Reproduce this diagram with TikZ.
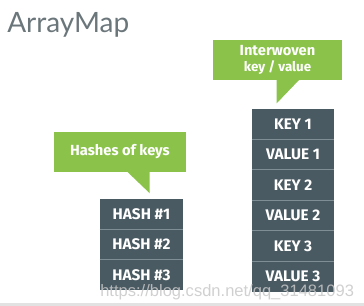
\documentclass[tikz,border=0pt]{standalone}
\usepackage{fontspec}
\newfontfamily\titlefont{Lato}
\newfontfamily\cellfont{Fira Sans}
\newfontfamily\markfont{Liberation Sans}
\usetikzlibrary{positioning,calc}
\definecolor{slate}{HTML}{4A5A62}
\definecolor{leaf}{HTML}{8BC34A}
\definecolor{ttl}{HTML}{6B767B}
\definecolor{band}{HTML}{E2E2E2}
\definecolor{sepl}{HTML}{7F8E95}
\definecolor{wmark}{HTML}{C8C8C8}
\def\px{0.75pt}
\tikzset{
  cell/.style={fill=slate, text=white, minimum width=83*\px, minimum height=30*\px,
               inner sep=0pt, font=\cellfont\bfseries\fontsize{11.5}{13}\selectfont},
  note/.style={fill=leaf, text=white, inner sep=0pt, align=center,
               font=\cellfont\bfseries\fontsize{11}{13}\selectfont},
  sep/.style={draw=sepl, line width=0.6pt},
}
\begin{document}
\begin{tikzpicture}[x=0.75pt, y=0.75pt]
  \useasboundingbox (0,0) rectangle (364,306);

  % --- title ---
  \node[anchor=base west, inner sep=0pt, text=ttl,
        font=\titlefont\fontsize{21}{24}\selectfont] (title) at (7,273) {ArrayMap};

  % --- left: hashes ---
  \node[note, minimum width=132*\px, minimum height=40*\px] (hashnote) at (120,154)
       {Hashes of keys};
  \fill[leaf] ($(hashnote.south west)+(73,1)$) -- ($(hashnote.south west)+(96,1)$)
              -- ($(hashnote.south west)+(96,-21)$) -- cycle;
  \node[cell] (h1) at (141.5,92) {HASH \#1};
  \node[cell, below=0pt of h1] (h2) {HASH \#2};
  \node[cell, below=0pt of h2] (h3) {HASH \#3};
  \foreach \n in {h1,h2}
    \draw[sep] (\n.south west) -- (\n.south east);

  % --- right: keys and values side by side ---
  \node[note, minimum width=129*\px, minimum height=40*\px] (kvnote) at (277.5,246)
       {Interwoven\\[-1pt]{\fontsize{10}{12}\selectfont key / value}};
  \fill[leaf] ($(kvnote.south west)+(64,1)$) -- ($(kvnote.south west)+(87,1)$)
              -- ($(kvnote.south west)+(64,-23)$) -- cycle;
  \node[cell, minimum width=82*\px] (k1) at (293,182) {KEY 1};
  \node[cell, minimum width=82*\px, below=0pt of k1] (v1) {VALUE 1};
  \node[cell, minimum width=82*\px, below=0pt of v1] (k2) {KEY 2};
  \node[cell, minimum width=82*\px, below=0pt of k2] (v2) {VALUE 2};
  \node[cell, minimum width=82*\px, below=0pt of v2] (k3) {KEY 3};
  \node[cell, minimum width=82*\px, below=0pt of k3] (v3) {VALUE 3};
  \foreach \n in {k1,v1,k2,v2,k3}
    \draw[sep] (\n.south west) -- (\n.south east);

  % --- watermark and bottom strip ---
  \node[anchor=base west, inner sep=0pt, text=wmark, opacity=0.85,
        font=\markfont\fontsize{12.4}{14}\selectfont] (mark) at (100,9)
       {https://blog.csdn.net/qq\_31481093};
  \fill[band] (0,0) rectangle (364,3);
\end{tikzpicture}
\end{document}
